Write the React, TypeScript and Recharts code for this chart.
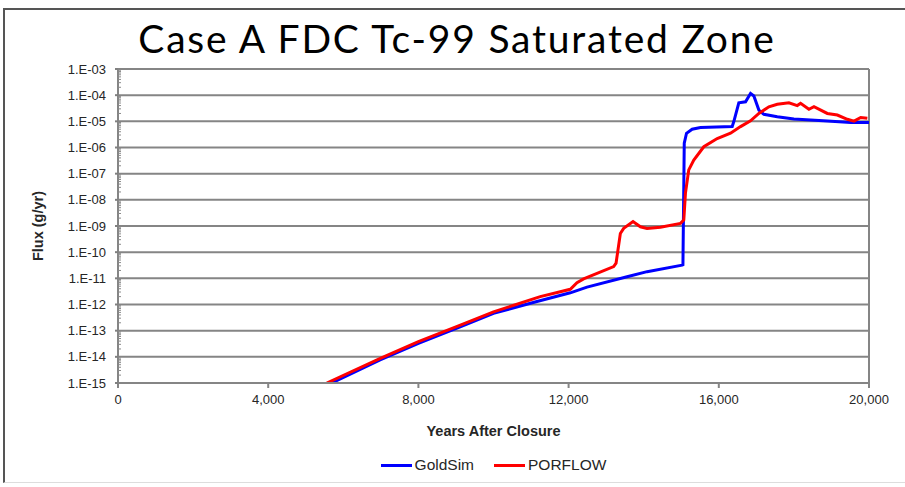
import React from 'react';
import { LineChart, Line, XAxis, YAxis, CartesianGrid, Legend } from 'recharts';

// GoldSim curve (years after closure, flux g/yr)
const goldsimYears = [5690, 6980, 8000, 9112, 10000, 11157, 12045, 12490, 13557, 14090, 15024, 15045, 15080, 15140, 15290, 15512, 16357, 16400, 16533, 16712, 16845, 16934, 17067, 17200, 17557, 18000, 18890, 19512, 20000];
const goldsimFlux = [1e-15, 7.6e-15, 3.3e-14, 1.4e-13, 4.6e-13, 1.3e-12, 2.8e-12, 4.6e-12, 1.15e-11, 1.8e-11, 3.2e-11, 3.3e-11, 1.45e-6, 3.5e-6, 5.0e-6, 5.8e-6, 6.3e-6, 9.8e-6, 5.1e-5, 5.6e-5, 1.17e-4, 9.3e-5, 2.7e-5, 1.86e-5, 1.5e-5, 1.23e-5, 1.02e-5, 9.1e-6, 9.1e-6];

// PORFLOW curve
const porflowYears = [5560, 7000, 8000, 9100, 10000, 11245, 12045, 12223, 12400, 13200, 13264, 13378, 13467, 13716, 13912, 14090, 14446, 14980, 15068, 15112, 15200, 15334, 15601, 15957, 16312, 16579, 16845, 17067, 17334, 17557, 17867, 18090, 18178, 18400, 18534, 18890, 19157, 19423, 19601, 19779, 19956];
const porflowFlux = [1e-15, 8.9e-15, 3.8e-14, 1.6e-13, 5.2e-13, 2.0e-12, 3.8e-12, 6.8e-12, 9.5e-12, 2.8e-11, 3.8e-11, 5.2e-10, 8.1e-10, 1.48e-9, 9.3e-10, 8.1e-10, 8.9e-10, 1.26e-9, 1.7e-9, 1.8e-8, 1.4e-7, 3.3e-7, 1.07e-6, 2.2e-6, 3.5e-6, 6.3e-6, 1.05e-5, 2.0e-5, 3.6e-5, 4.5e-5, 5.1e-5, 4.0e-5, 4.9e-5, 2.9e-5, 3.6e-5, 2.0e-5, 1.74e-5, 1.2e-5, 1.02e-5, 1.4e-5, 1.3e-5];

const xTicks = [0, 4000, 8000, 12000, 16000, 20000];
const yTicks = [1e-15, 1e-14, 1e-13, 1e-12, 1e-11, 1e-10, 1e-9, 1e-8, 1e-7, 1e-6, 1e-5, 1e-4, 1e-3];
const minorSteps = [2, 3, 4, 5, 6, 7, 8, 9];

const goldsimData = goldsimYears.map((year, i) => ({ year, flux: goldsimFlux[i] }));
const porflowData = porflowYears.map((year, i) => ({ year, flux: porflowFlux[i] }));

// log axis minor ticks (axis decoration only)
const minorTicks = yTicks.slice(0, -1).flatMap((d) => minorSteps.map((m) => m * d));
const allYTicks = [...yTicks, ...minorTicks];

const isMajor = (v: number) => yTicks.some((t) => Math.abs(v - t) / t < 1e-6);

const formatSci = (v: number) => {
  const exp = Math.round(Math.log10(v));
  return `1.E-${String(-exp).padStart(2, '0')}`;
};

const FONT = 'Arial, "Liberation Sans", sans-serif';

function YTick(props: any) {
  const { x, y, payload } = props;
  const axisX = x + 12;
  if (!isMajor(payload.value)) {
    return <line x1={axisX} x2={axisX + 3} y1={y} y2={y} stroke="#8a8a8a" strokeWidth={1} />;
  }
  return (
    <g>
      <line x1={axisX - 3} x2={axisX} y1={y} y2={y} stroke="#808080" strokeWidth={2} />
      <text x={x} y={y} dy="0.35em" textAnchor="end" fontSize={13} fill="#262626" fontFamily={FONT}>
        {formatSci(payload.value)}
      </text>
    </g>
  );
}

function LegendContent(props: any) {
  const { payload = [] } = props;
  return (
    <div style={{ display: 'flex', justifyContent: 'center', alignItems: 'center', height: 44, gap: 20 }}>
      {payload.map((p: any) => (
        <div key={p.value} style={{ display: 'flex', alignItems: 'center' }}>
          <span style={{ display: 'inline-block', width: 31, height: 3, background: p.color, marginRight: 3 }} />
          <span style={{ fontFamily: FONT, fontSize: 15.5, color: '#262626' }}>{p.value}</span>
        </div>
      ))}
    </div>
  );
}

export default function App() {
  return (
    <div style={{ position: 'absolute', left: 0, top: 0, width: 905, height: 487, background: '#fff', overflow: 'hidden' }}>
      <div style={{ position: 'absolute', left: 3, top: 8, right: 0, bottom: 4, borderTop: '2px solid #555', borderLeft: '2px solid #555', borderBottom: '1px solid #ddd' }} />
      <div style={{ position: 'absolute', left: 0, width: 914, top: 18, textAlign: 'center', fontFamily: 'Lato, sans-serif', fontSize: 39, lineHeight: '40px', letterSpacing: 1.8, color: '#000' }}>
        Case A FDC Tc-99 Saturated Zone
      </div>
      <div style={{ position: 'absolute', left: 0, top: 0 }}>
        <LineChart width={905} height={487} margin={{ top: 69, right: 36, left: 0, bottom: 0 }}>
          <CartesianGrid
            horizontalValues={yTicks}
            verticalValues={[20000]}
            stroke="#858585"
            strokeWidth={2}
            strokeDasharray=""
          />
          <XAxis
            dataKey="year"
            type="number"
            domain={[0, 20000]}
            ticks={xTicks}
            allowDataOverflow
            height={60}
            tickSize={5}
            tickMargin={7}
            stroke="#858585"
            strokeWidth={2}
            tick={{ fontSize: 13, fill: '#262626', fontFamily: FONT }}
            tickFormatter={(v: number) => v.toLocaleString('en-US')}
            label={{ value: 'Years After Closure', position: 'insideBottom', offset: 7, style: { fontSize: 14.5, fontWeight: 'bold', fill: '#262626', fontFamily: FONT } }}
          />
          <YAxis
            dataKey="flux"
            scale="log"
            domain={[1e-15, 1e-3]}
            ticks={allYTicks}
            allowDataOverflow
            interval={0}
            width={118}
            tickSize={0}
            tickMargin={12}
            tickLine={false}
            stroke="#858585"
            strokeWidth={2}
            tick={<YTick />}
            label={{ value: 'Flux (g/yr)', angle: -90, position: 'insideLeft', offset: 38, style: { textAnchor: 'middle', fontSize: 14.5, fontWeight: 'bold', fill: '#262626', fontFamily: FONT } }}
          />
          <Legend verticalAlign="bottom" height={44} wrapperStyle={{ left: 118, width: 751 }} content={<LegendContent />} />
          <Line data={goldsimData} dataKey="flux" name="GoldSim" stroke="#0000ff" strokeWidth={3} dot={false} type="linear" isAnimationActive={false} />
          <Line data={porflowData} dataKey="flux" name="PORFLOW" stroke="#ff0000" strokeWidth={3} dot={false} type="linear" isAnimationActive={false} />
        </LineChart>
      </div>
    </div>
  );
}
